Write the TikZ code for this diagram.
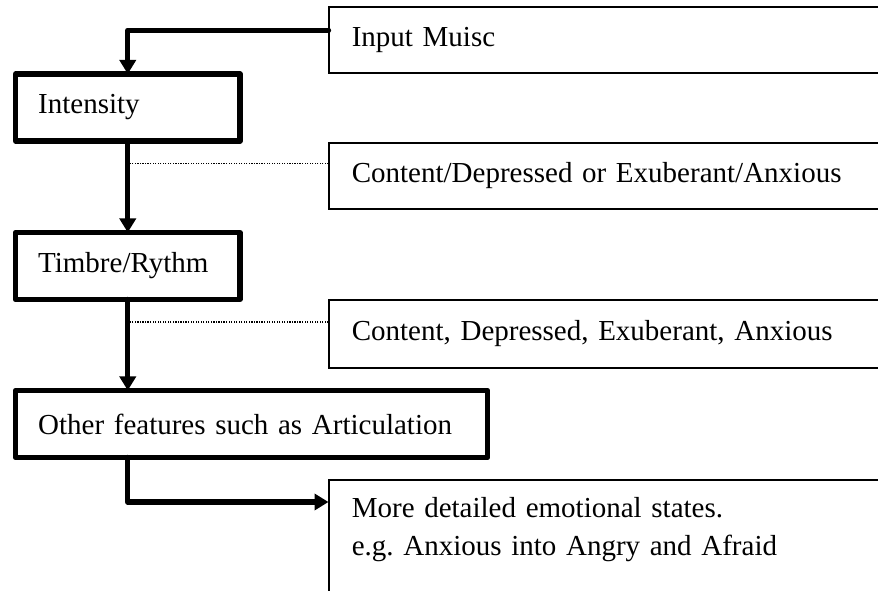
\documentclass[tikz,border=0pt]{standalone}
\usepackage{fontspec}
\setmainfont{Liberation Serif}
\usetikzlibrary{arrows.meta}

\tikzset{
  boxfont/.style={font=\fontsize{21.75}{28.5}\selectfont},
  stage/.style={boxfont, draw, rectangle, line width=4pt, line join=round, anchor=north west, align=left, inner xsep=17pt, outer sep=0pt},
  result/.style={boxfont, draw, rectangle, line width=1.5pt, anchor=north west, align=left, inner xsep=17.5pt, text width=394pt, outer sep=0pt},
  flow/.style={line width=4pt, line join=round, line cap=round, -{Triangle[length=10.5pt,width=12pt]}},
  link/.style={line width=0.9pt, densely dotted},
}

\begin{document}
\begin{tikzpicture}[x=0.75pt,y=0.75pt,yscale=-1,xscale=1]
\useasboundingbox (0,0) rectangle (878,591);
\clip (0,0) rectangle (878,591);

%Stages on the left
\node[stage, text width=134.4pt, minimum height=50.25pt] (intensity) at (15.5,74) {Intensity};
\node[stage, text width=134.4pt, minimum height=50.25pt] (timbre) at (15.5,232.5) {Timbre/Rythm};
\node[stage, text width=320pt, minimum height=50.25pt] (other) at (15.5,390.5) {Other features such as Articulation};

%Results on the right
\node[result, minimum height=49.1pt] (input) at (328.5,7.5) {Input Muisc};
\node[result, minimum height=49.5pt] (emo1) at (328.5,143) {Content/Depressed or Exuberant/Anxious};
\node[result, minimum height=51pt] (emo2) at (328.5,300) {Content, Depressed, Exuberant, Anxious};
\node[result, inner ysep=13pt] (detail) at (328.5,480) {More detailed emotional states.\\ e.g.\ Anxious into Angry and Afraid\\ \mbox{}};

%Connectors
\draw[flow] ([yshift=-7.5pt]input.west) -| (intensity.north);
\draw[flow] (intensity.south) -- (timbre.north);
\draw[flow] (timbre.south) -- (timbre.south |- other.north);
\coordinate (d3) at ([yshift=16.5pt]detail.north west);
\draw[flow] (timbre.south |- other.south) |- (d3);

\coordinate (d1) at ([yshift=-9.4pt]emo1.west);
\draw[link] (d1) -- (d1 -| intensity.south);
\coordinate (d2) at ([yshift=-9pt]emo2.west);
\draw[link] (d2) -- (d2 -| timbre.south);

\end{tikzpicture}
\end{document}
